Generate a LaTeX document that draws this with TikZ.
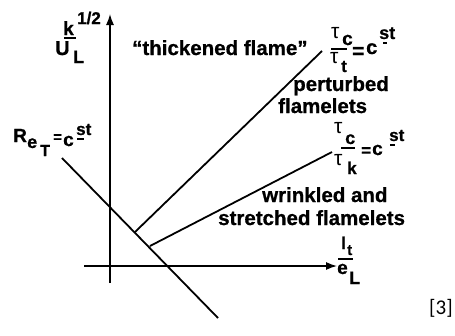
\documentclass[tikz,border=0pt]{standalone}
\usepackage{fontspec}
\setmainfont{Liberation Sans}[BoldFeatures={FakeBold=0.8}]
\newfontfamily\refont{Carlito}
\usetikzlibrary{arrows.meta}
\tikzset{
  lbl/.style={inner sep=0pt, anchor=base west, font=\bfseries\fontsize{20.5}{22}\selectfont},
  sym/.style={inner sep=0pt, anchor=base west, font=\bfseries\fontsize{#1}{#1}\selectfont},
  tau/.style={inner sep=0pt, anchor=base west, font=\fontsize{21}{21}\selectfont},
  axis/.style={line width=1.3pt, -{Latex[length=11pt,width=8pt]}},
  bound/.style={line width=1.8pt},
  bar/.style={line width=1.4pt}
}
\begin{document}
\begin{tikzpicture}[x=1pt,y=-1pt]
\useasboundingbox (0,0) rectangle (455,335);
% axes
\coordinate (vb) at (110,283);
\coordinate (vt) at (110,14);
\coordinate (hl) at (84,266);
\coordinate (hr) at (337,266);
\draw[axis] (vb) -- (vt);
\draw[axis] (hl) -- (hr);
% boundaries
\coordinate (r1) at (62,158);
\coordinate (r2) at (218,318);
\draw[bound] (r1) -- (r2);
\coordinate (t1) at (135,232);
\coordinate (t2) at (322,51);
\draw[bound] (t1) -- (t2);
\coordinate (k1) at (150,246);
\coordinate (k2) at (332,152);
\draw[bound] (k1) -- (k2);
% region labels
\node[lbl] (thick) at (132,55) {“thickened flame”};
\node[lbl] (pert) at (293,91) {perturbed};
\node[lbl] (flm) at (278,113) {flamelets};
\node[lbl] (wrink) at (262,202) {wrinkled and};
\node[lbl] (stretch) at (218,225) {stretched flamelets};
% y-axis label k^{1/2}/U_L
\node[sym=19] (kk) at (63,35) {k};
\node[sym=17] (half) at (77,24) {1/2};
\draw[bar] (64,38) -- (76,38);
\node[sym=20] (uu) at (55,55) {U};
\node[sym=18] (ul) at (73,63) {L};
% x-axis label l_t/e_L
\node[sym=17] (ll) at (341,249) {l};
\node[sym=15] (lt) at (347,255) {t};
\draw[bar] (338,259) -- (353,259);
\node[sym=19] (ee) at (337,274) {e};
\node[sym=18] (el) at (349,284) {L};
% Re_T = cst
\node[sym=19] (rr) at (13,142) {R};
\node[sym=18] (re) at (27,148) {e};
\node[sym=16] (rt) at (40,156) {T};
\node[sym=15] (req) at (53,142) {=};
\node[sym=19] (rc) at (63,146) {c};
\node[sym=17] (rst) at (76,135) {st};
\draw[bar] (77,139) -- (84,139);
% tau_c/tau_t = cst
\node[tau] (ta1) at (331,38) {τ};
\node[sym=19] (tc1) at (342,45) {c};
\draw[bar] (331,49) -- (347,49);
\node[tau] (ta2) at (330,63) {τ};
\node[sym=17] (tt) at (341,72) {t};
\node[sym=21] (teq) at (352,58) {=};
\node[sym=20] (tcc) at (366,54) {c};
\node[sym=18] (tst) at (379,39) {st};
\draw[bar] (383,43) -- (387,43);
% tau_c/tau_k = cst
\node[tau] (kt1) at (334,133) {τ};
\node[sym=18] (kc1) at (345,144) {c};
\draw[bar] (341,148) -- (355,148);
\node[tau] (kt2) at (334,165) {τ};
\node[sym=17] (kkk) at (347,174) {k};
\node[sym=17] (keq) at (361,156) {=};
\node[sym=19] (kcc) at (372,155) {c};
\node[sym=17] (kst) at (389,141) {st};
\draw[bar] (390,145) -- (395,145);
% reference
\node[inner sep=0pt, font=\refont\fontsize{21}{22}\selectfont] (ref) at (441,308) {[3]};
\end{tikzpicture}
\end{document}
